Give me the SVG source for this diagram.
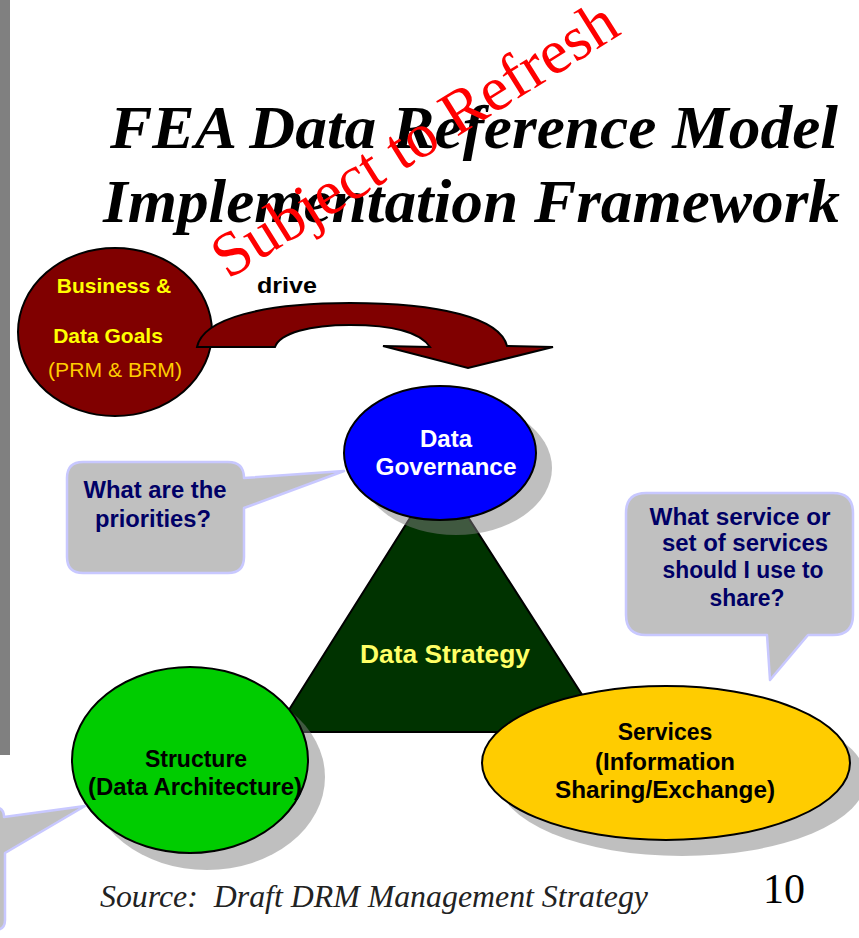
<svg xmlns="http://www.w3.org/2000/svg" width="859" height="938" viewBox="0 0 859 938">
<style>
.t{font-family:"Liberation Sans",Arial,sans-serif;font-weight:bold;text-anchor:middle}
.title{font-family:"Liberation Serif","Times New Roman",serif;font-weight:bold;font-style:italic;font-size:61px;fill:#000}
.sh{fill:#808080;opacity:0.5}
.node{stroke:#000;stroke-width:2}
.callout{fill:#C0C0C0;stroke:#C8C8FF;stroke-width:2.5;stroke-linejoin:round}
.q{font-size:23px;fill:#000066}
</style>
<rect x="0" y="0" width="859" height="938" fill="#FFFFFF"/>
<rect x="0" y="0" width="10" height="755" fill="#808080"/>
<g id="title">
<text class="title" x="110" y="148" textLength="728" lengthAdjust="spacingAndGlyphs">FEA Data Reference Model</text>
<text class="title" x="103" y="222" textLength="737" lengthAdjust="spacingAndGlyphs">Implementation Framework</text>
</g>
<g id="strategy">
<path d="M439,472 L606,732 L275,732 Z" fill="#003300" class="node"/>
</g>
<g id="shadows">
<ellipse class="sh" cx="456" cy="468" rx="96" ry="67"/>
<ellipse class="sh" cx="207" cy="777" rx="118" ry="93"/>
<ellipse class="sh" cx="682" cy="779" rx="184" ry="77"/>
</g>
<text class="t" x="445" y="663" font-size="25" fill="#FFFF66" textLength="170" lengthAdjust="spacingAndGlyphs">Data Strategy</text>
<g id="goals">
<ellipse class="node" cx="115" cy="332" rx="97" ry="84" fill="#800000"/>
<text class="t" x="114" y="293" font-size="21" fill="#FFFF00">Business &amp;</text>
<text class="t" x="108" y="343" font-size="21" fill="#FFFF00">Data Goals</text>
<text x="115" y="377" font-family="Liberation Sans,Arial,sans-serif" font-size="20" fill="#FFCC00" text-anchor="middle" textLength="134" lengthAdjust="spacingAndGlyphs">(PRM &amp; BRM)</text>
</g>
<g id="connectors">
<path d="M197,347 C203,318 265,303 350,303 C440,303 500,318 507,346 L553,347 L468,368 L383,346 L430,347 C420,332 392,325 350,325 C310,325 280,333 275,347 Z" fill="#800000" stroke="#000" stroke-width="2" stroke-linejoin="miter"/>
<text class="t" x="287" y="293" font-size="22" fill="#000" textLength="60" lengthAdjust="spacingAndGlyphs">drive</text>
</g>
<g id="governance">
<ellipse class="node" cx="440" cy="453" rx="96" ry="67" fill="#0000FF"/>
<text class="t" x="446" y="447" font-size="24" fill="#FFFFFF">Data</text>
<text class="t" x="446" y="475" font-size="24" fill="#FFFFFF" textLength="141" lengthAdjust="spacingAndGlyphs">Governance</text>
</g>
<g id="structure">
<ellipse class="node" cx="190" cy="760" rx="118" ry="93" fill="#00CC00"/>
<text class="t" x="196" y="767" font-size="23" fill="#000">Structure</text>
<text class="t" x="195" y="795" font-size="23" fill="#000" textLength="214" lengthAdjust="spacingAndGlyphs">(Data Architecture)</text>
</g>
<g id="services">
<ellipse class="node" cx="666" cy="763" rx="184" ry="77" fill="#FFCC00"/>
<text class="t" x="665" y="740" font-size="23" fill="#000">Services</text>
<text class="t" x="665" y="770" font-size="23" fill="#000" textLength="140" lengthAdjust="spacingAndGlyphs">(Information</text>
<text class="t" x="665" y="798" font-size="23" fill="#000" textLength="220" lengthAdjust="spacingAndGlyphs">Sharing/Exchange)</text>
</g>
<g id="callout-priorities">
<path class="callout" d="M83,462 H228 Q244,462 244,478 L344,471 L244,508 V557 Q244,573 228,573 H83 Q67,573 67,557 V478 Q67,462 83,462 Z"/>
<text class="t q" x="155" y="498" textLength="143" lengthAdjust="spacingAndGlyphs">What are the</text>
<text class="t q" x="153" y="527" textLength="116" lengthAdjust="spacingAndGlyphs">priorities?</text>
</g>
<g id="callout-services">
<path class="callout" d="M646,493 H833 Q853,493 853,513 V615 Q853,635 833,635 H808 L770,680 L767,635 H646 Q626,635 626,615 V513 Q626,493 646,493 Z"/>
<text class="t q" x="740" y="525" textLength="181" lengthAdjust="spacingAndGlyphs">What service or</text>
<text class="t q" x="745" y="551" textLength="166" lengthAdjust="spacingAndGlyphs">set of services</text>
<text class="t q" x="743" y="578" textLength="161" lengthAdjust="spacingAndGlyphs">should I use to</text>
<text class="t q" x="747" y="606" textLength="75" lengthAdjust="spacingAndGlyphs">share?</text>
</g>
<g id="callout-structure">
<path class="callout" d="M-20,807 H-6 Q4,807 4,817 L85,806 L5,853 V920 Q5,930 -5,930 H-20 Z"/>
</g>
<text x="228" y="280" transform="rotate(-32 228 280)" font-family="Liberation Serif,'Times New Roman',serif" font-size="63" fill="#FF0000">Subject to Refresh</text>
<text x="100" y="907" font-family="Liberation Serif,'Times New Roman',serif" font-style="italic" font-size="31" fill="#222" textLength="548" lengthAdjust="spacingAndGlyphs">Source:&#160; Draft DRM Management Strategy</text>
<text x="763" y="903" font-family="Liberation Serif,'Times New Roman',serif" font-size="42" fill="#000">10</text>
</svg>
